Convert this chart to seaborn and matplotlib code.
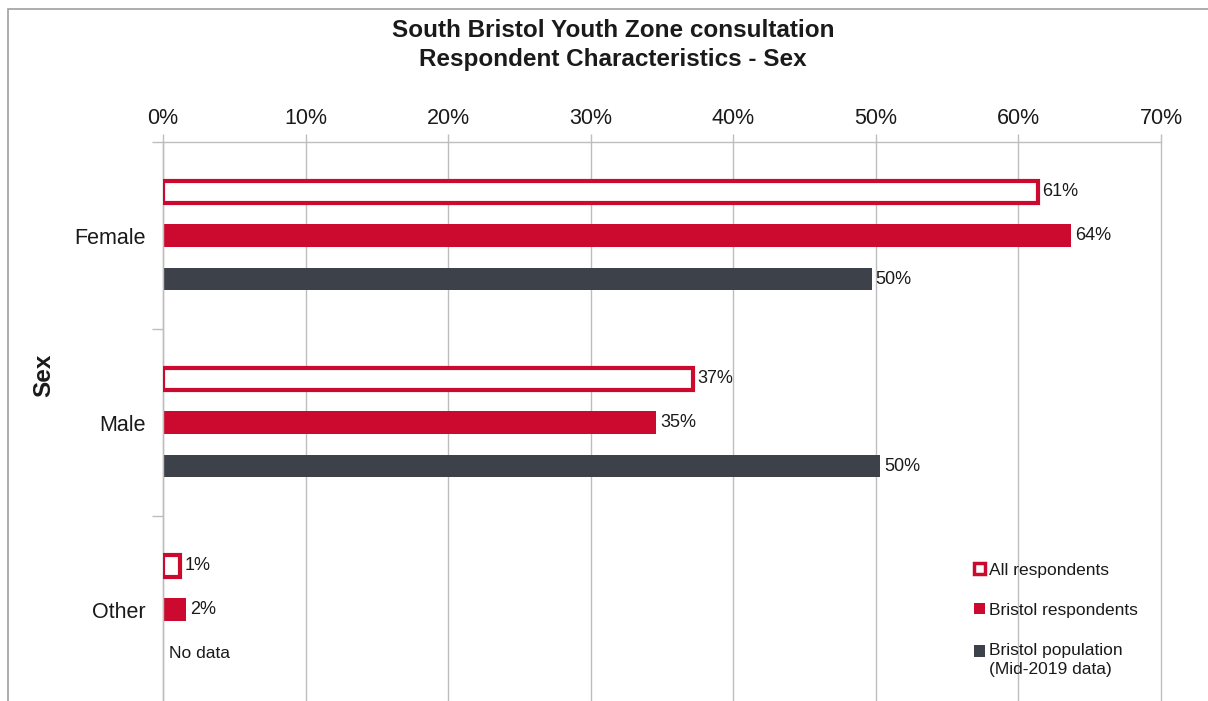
import numpy as np
import pandas as pd
import seaborn as sns
import matplotlib.pyplot as plt
from matplotlib.patches import Patch, Rectangle
from matplotlib.ticker import PercentFormatter, FixedLocator

# Survey shares (%) by sex and respondent group
categories = ["Female", "Male", "Other"]
series = ["All respondents", "Bristol respondents", "Bristol population"]
all_respondents = [61.4, 37.2, 1.2]
bristol_respondents = [63.7, 34.6, 1.6]
bristol_population = [49.7, 50.3, np.nan]   # no population figure for "Other"
x_ticks = [0, 10, 20, 30, 40, 50, 60, 70]

RED = "#CC0A2F"
DARK = "#3D4149"
GRID = "#BDBDBD"
TEXT = "#1A1A1A"

rows = []
for name, vals in zip(series, [all_respondents, bristol_respondents, bristol_population]):
    for cat, v in zip(categories, vals):
        rows.append({"Sex": cat, "Group": name, "Share": v})
df = pd.DataFrame(rows)

sns.set_style("white")
plt.rcParams["font.family"] = ["Liberation Sans", "DejaVu Sans"]

fig = plt.figure(figsize=(12.08, 7.01), dpi=100)
ax = fig.add_axes([163 / 1208, -2 / 701, 998 / 1208, 561 / 701])

sns.barplot(
    data=df, y="Sex", x="Share", hue="Group", orient="h",
    order=categories, hue_order=series,
    palette=[RED, RED, DARK], width=0.7, gap=0.49, dodge=True,
    errorbar=None, legend=False, ax=ax, linewidth=0, saturation=1,
)

# Outline-only style for the "All respondents" series
hollow = ax.containers[0]
for bar in hollow:
    bar.set_facecolor("white")
    bar.set_edgecolor(RED)
    bar.set_linewidth(3)
    bar.set_zorder(3)

for cont in ax.containers:
    labels = [f"{v:.0f}%" if np.isfinite(v) else "" for v in cont.datavalues]
    ax.bar_label(cont, labels=labels, padding=3, fontsize=13, color=TEXT)

ax.text(0.4, 2 + 0.233, "No data", va="center", ha="left", fontsize=12.5, color=TEXT)

# Axes layout
ax.set_xlim(0, 70)
ax.set_ylim(2.5, -0.5)
ax.xaxis.tick_top()
ax.xaxis.set_major_locator(FixedLocator(x_ticks))
ax.xaxis.set_major_formatter(PercentFormatter(decimals=0))
ax.tick_params(axis="x", which="major", top=True, bottom=False, length=6,
               width=1, color=GRID, pad=3.5, labelsize=15.5, labelcolor=TEXT)
ax.grid(axis="x", color=GRID, linewidth=1)
for gl in ax.get_xgridlines():
    gl.set_clip_on(False)
ax.set_axisbelow(True)

ax.set_yticks(range(len(categories)))
ax.set_yticklabels(categories)
ax.yaxis.set_minor_locator(FixedLocator([-0.5, 0.5, 1.5]))
ax.tick_params(axis="y", which="major", length=0, pad=12.5, labelsize=15.5, labelcolor=TEXT)
ax.tick_params(axis="y", which="minor", left=True, length=8, width=1, color=GRID)

for side in ["right", "bottom"]:
    ax.spines[side].set_visible(False)
for side in ["left", "top"]:
    ax.spines[side].set_color(GRID)
    ax.spines[side].set_linewidth(1)

ax.set_xlabel("")
ax.set_ylabel("Sex", fontsize=17.5, fontweight="bold", color=TEXT)
ax.yaxis.set_label_coords(-0.108, 0.585)

handles = [
    Patch(facecolor="white", edgecolor=RED, linewidth=2.5),
    Patch(facecolor=RED, edgecolor=RED, linewidth=0),
    Patch(facecolor=DARK, edgecolor=DARK, linewidth=0),
]
legend_labels = ["All respondents", "Bristol respondents", "Bristol population\n(Mid-2019 data)"]
leg = fig.legend(handles, legend_labels, loc="upper left",
                 bbox_to_anchor=(958 / 1208, 1 - 547 / 701), frameon=False,
                 fontsize=12.5, handlelength=0.65, handleheight=0.65, handletextpad=0.25,
                 labelspacing=1.45, labelcolor=TEXT)
for t in leg.get_texts():
    t.set_linespacing(1.35)
# Align the two-line entry's swatch with its first line
last = leg.legend_handles[2]
last.set_y(last.get_y() + 6.5)

fig.text(613 / 1208, 1 - 45 / 701,
         "South Bristol Youth Zone consultation\nRespondent Characteristics - Sex",
         ha="center", va="center", fontsize=17.5, fontweight="bold", color=TEXT,
         linespacing=1.3)

# Outer chart frame
fig.patches.append(Rectangle((8 / 1208, -0.05), 1.1, 1 - 9 / 701 + 0.05,
                             transform=fig.transFigure, fill=False,
                             edgecolor="#A0A0A0", linewidth=1.2))

fig.savefig("out.png", dpi=100)
